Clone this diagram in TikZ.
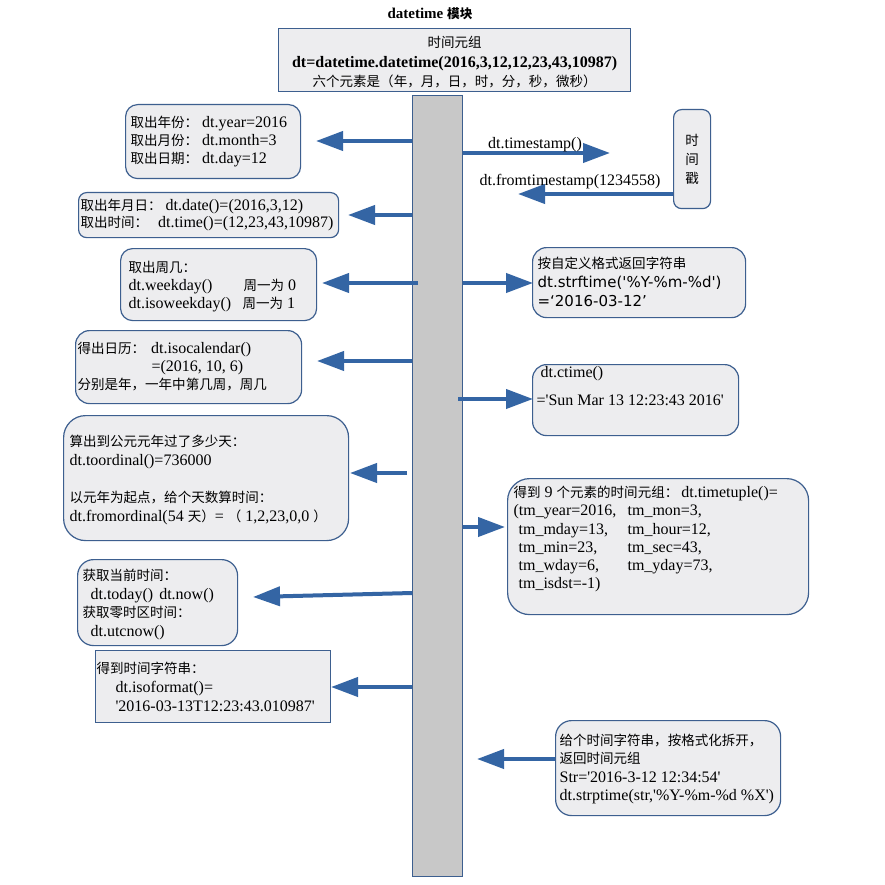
\documentclass[tikz,border=0pt]{standalone}
\usepackage{fontspec}
\usetikzlibrary{arrows.meta}
\newfontfamily\serif{Liberation Serif}
\newfontfamily\cjkf{Noto Sans CJK SC}[Scale=0.845]
\newfontfamily\dvs{DejaVu Sans}
\newcommand\zh[1]{{\cjkf #1}}
% width, height, dx, first baseline, baselineskip, content
\newcommand\bt[6]{\parbox[c][#2][t]{#1}{\fontsize{16pt}{#5}\selectfont
  \vspace*{\dimexpr #4-0.7\dimexpr #5\relax\relax}%
  \noindent\hspace*{#3}\begin{tabular}[t]{@{}l@{}}#6\end{tabular}}}
% width, height, first baseline, baselineskip, content (centered)
\newcommand\btc[5]{\parbox[c][#2][t]{#1}{\fontsize{16pt}{#4}\selectfont
  \vspace*{\dimexpr #3-0.7\dimexpr #4\relax\relax}%
  \centering\begin{tabular}[t]{@{}c@{}}#5\end{tabular}\par}}
\definecolor{arrc}{HTML}{3465A4}
\definecolor{bordc}{HTML}{3D5F8F}
\definecolor{boxf}{HTML}{EDEDEF}
\definecolor{barf}{HTML}{C8C8C8}
\tikzset{
  box/.style={draw=bordc, fill=boxf, line width=1.2pt, rounded corners=12pt,
    inner sep=0pt, anchor=north west},
  arr/.style={draw=arrc, line width=4pt, -{Triangle[length=27pt,width=19pt]}},
  lbl/.style={inner sep=0pt, anchor=base}
}
\begin{document}
\begin{tikzpicture}[x=1pt,y=-1pt,font=\serif\fontsize{16pt}{18pt}\selectfont]
\path[use as bounding box, fill=white] (0,0) rectangle (885,885);

% title
\node[lbl] (title) at (430,19) {\fontsize{15pt}{18pt}\selectfont\bfseries datetime \zh{模块}};

% top box
\node[box, rounded corners=0pt] (top) at (278,28)
  {\btc{352pt}{63pt}{19pt}{19.5pt}{\zh{时间元组}\\
   {\bfseries dt=datetime.datetime(2016,3,12,12,23,43,10987)}\\
   \zh{六个元素是（年，月，日，时，分，秒，微秒）}}};

% central bar
\node[draw=bordc, fill=barf, line width=1.2pt, minimum width=50pt,
  minimum height=781pt, anchor=north west, inner sep=0pt] (bar) at (412,95) {};

% left boxes
\node[box] (b1) at (125,104)
  {\bt{175pt}{74pt}{5pt}{23pt}{18pt}{\zh{取出年份：}\hspace{4pt}dt.year=2016\\
   \zh{取出月份：}\hspace{4pt}dt.month=3\\ \zh{取出日期：}\hspace{4pt}dt.day=12}};
\node[box, rounded corners=8pt] (b2) at (78,192)
  {\bt{260pt}{45pt}{2pt}{18pt}{17pt}{\zh{取出年月日：} dt.date()=(2016,3,12)\\
   \zh{取出时间：}\hspace{10pt}dt.time()=(12,23,43,10987)}};
\node[box] (b3) at (120,248)
  {\bt{196pt}{72pt}{8pt}{24pt}{18pt}{\zh{取出周几：}\\
   \makebox[115pt][l]{dt.weekday()}\zh{周一为} 0\\
   \makebox[114pt][l]{dt.isoweekday()}\zh{周一为} 1}};
\node[box, rounded corners=14pt] (b4) at (75,330)
  {\bt{226pt}{73pt}{2pt}{23pt}{18pt}{\zh{得出日历：}\hspace{6pt}dt.isocalendar()\\
   \hspace*{74pt}=(2016, 10, 6)\\ \zh{分别是年，一年中第几周，周几}}};
\node[box, rounded corners=22pt] (b5) at (63,415)
  {\bt{285pt}{125pt}{6pt}{31pt}{18.5pt}{\zh{算出到公元元年过了多少天：}\\
   dt.toordinal()=736000\\[19pt]
   \zh{以元年为起点，给个天数算时间：}\\
   dt.fromordinal(54 \zh{天）}= \zh{（} 1,2,23,0,0 \zh{）}}};
\node[box, rounded corners=16pt] (b6) at (77,559)
  {\bt{160pt}{86pt}{5pt}{21pt}{18.5pt}{\zh{获取当前时间：}\\
   \hspace*{8pt}dt.today()\hspace{6pt}dt.now()\\
   \zh{获取零时区时间：}\\ \hspace*{8pt}dt.utcnow()}};
\node[box, rounded corners=0pt] (b7) at (95,650)
  {\bt{235pt}{72pt}{1pt}{23pt}{19pt}{\zh{得到时间字符串：}\\
   \hspace*{19pt}dt.isoformat()=\\
   \hspace*{19pt}'2016-03-13T12:23:43.010987'}};

% right boxes
\node[box, rounded corners=8pt] (ts) at (673,109)
  {\btc{37pt}{99pt}{36pt}{19pt}{\zh{时}\\ \zh{间}\\ \zh{戳}}};
\node[box, rounded corners=14pt] (r3b) at (532,247)
  {\bt{213pt}{70pt}{5pt}{21pt}{19pt}{\zh{按自定义格式返回字符串}\\
   {\dvs\fontsize{15pt}{19pt}\selectfont dt.strftime('\%Y-\%m-\%d')}\\
   {\dvs\fontsize{15pt}{19pt}\selectfont =‘2016-03-12’}}};
\node[box, rounded corners=14pt] (r4b) at (532,364)
  {\bt{206pt}{71pt}{4pt}{13pt}{18pt}{\hspace*{4pt}dt.ctime()\\[10pt]
   ='Sun Mar 13 12:23:43 2016'}};
\node[box, rounded corners=22pt] (r5b) at (507,478)
  {\bt{301pt}{136pt}{6pt}{19pt}{18.2pt}{\zh{得到} 9 \zh{个元素的时间元组：}\hspace{3pt}dt.timetuple()=\\
   \makebox[114pt][l]{(tm\_year=2016,}tm\_mon=3,\\
   \makebox[114pt][l]{\hspace*{5pt}tm\_mday=13,}tm\_hour=12,\\
   \makebox[114pt][l]{\hspace*{5pt}tm\_min=23,}tm\_sec=43,\\
   \makebox[114pt][l]{\hspace*{5pt}tm\_wday=6,}tm\_yday=73,\\
   \hspace*{5pt}tm\_isdst=-1)}};
\node[box, rounded corners=16pt] (r6b) at (555,720)
  {\bt{225pt}{95pt}{4pt}{25pt}{18.3pt}{\zh{给个时间字符串，按格式化拆开，}\\
   \zh{返回时间元组}\\ Str='2016-3-12 12:34:54'\\
   dt.strptime(str,'\%Y-\%m-\%d \%X')}};

% arrow end points
\coordinate (a1) at (316,141);
\coordinate (a2) at (348,215);
\coordinate (a3) at (322,283);
\coordinate (a4) at (317,361);
\coordinate (a5) at (350,473);
\coordinate (a6) at (253,597);
\coordinate (a7) at (331,687);
\coordinate (c1) at (610,153);
\coordinate (c2) at (518,194);
\coordinate (c3) at (533,283);
\coordinate (c4) at (533,399);
\coordinate (c5) at (505,527);
\coordinate (c6) at (477,759);

% left arrows
\draw[arr] (bar.west |- a1) -- (a1);
\draw[arr] (bar.west |- a2) -- (a2);
\draw[arr] ([xshift=6pt]bar.west |- a3) -- (a3);
\draw[arr] (bar.west |- a4) -- (a4);
\draw[arr] ([xshift=-5pt]bar.west |- a5) -- (a5);
\draw[arr] ([yshift=4pt]bar.west |- a6) -- (a6);
\draw[arr] (bar.west |- a7) -- (a7);

% right arrows
\draw[arr] (bar.east |- c1) -- (c1);
\node[lbl] (l1) at (535,149) {dt.timestamp()};
\draw[arr] (ts.west |- c2) -- (c2);
\node[lbl] (l2) at (570,186) {dt.fromtimestamp(1234558)};
\draw[arr] (bar.east |- c3) -- (c3);
\draw[arr] ([xshift=-5pt]bar.east |- c4) -- (c4);
\draw[arr] (bar.east |- c5) -- (c5);
\draw[arr] (r6b.west |- c6) -- (c6);
\end{tikzpicture}
\end{document}
